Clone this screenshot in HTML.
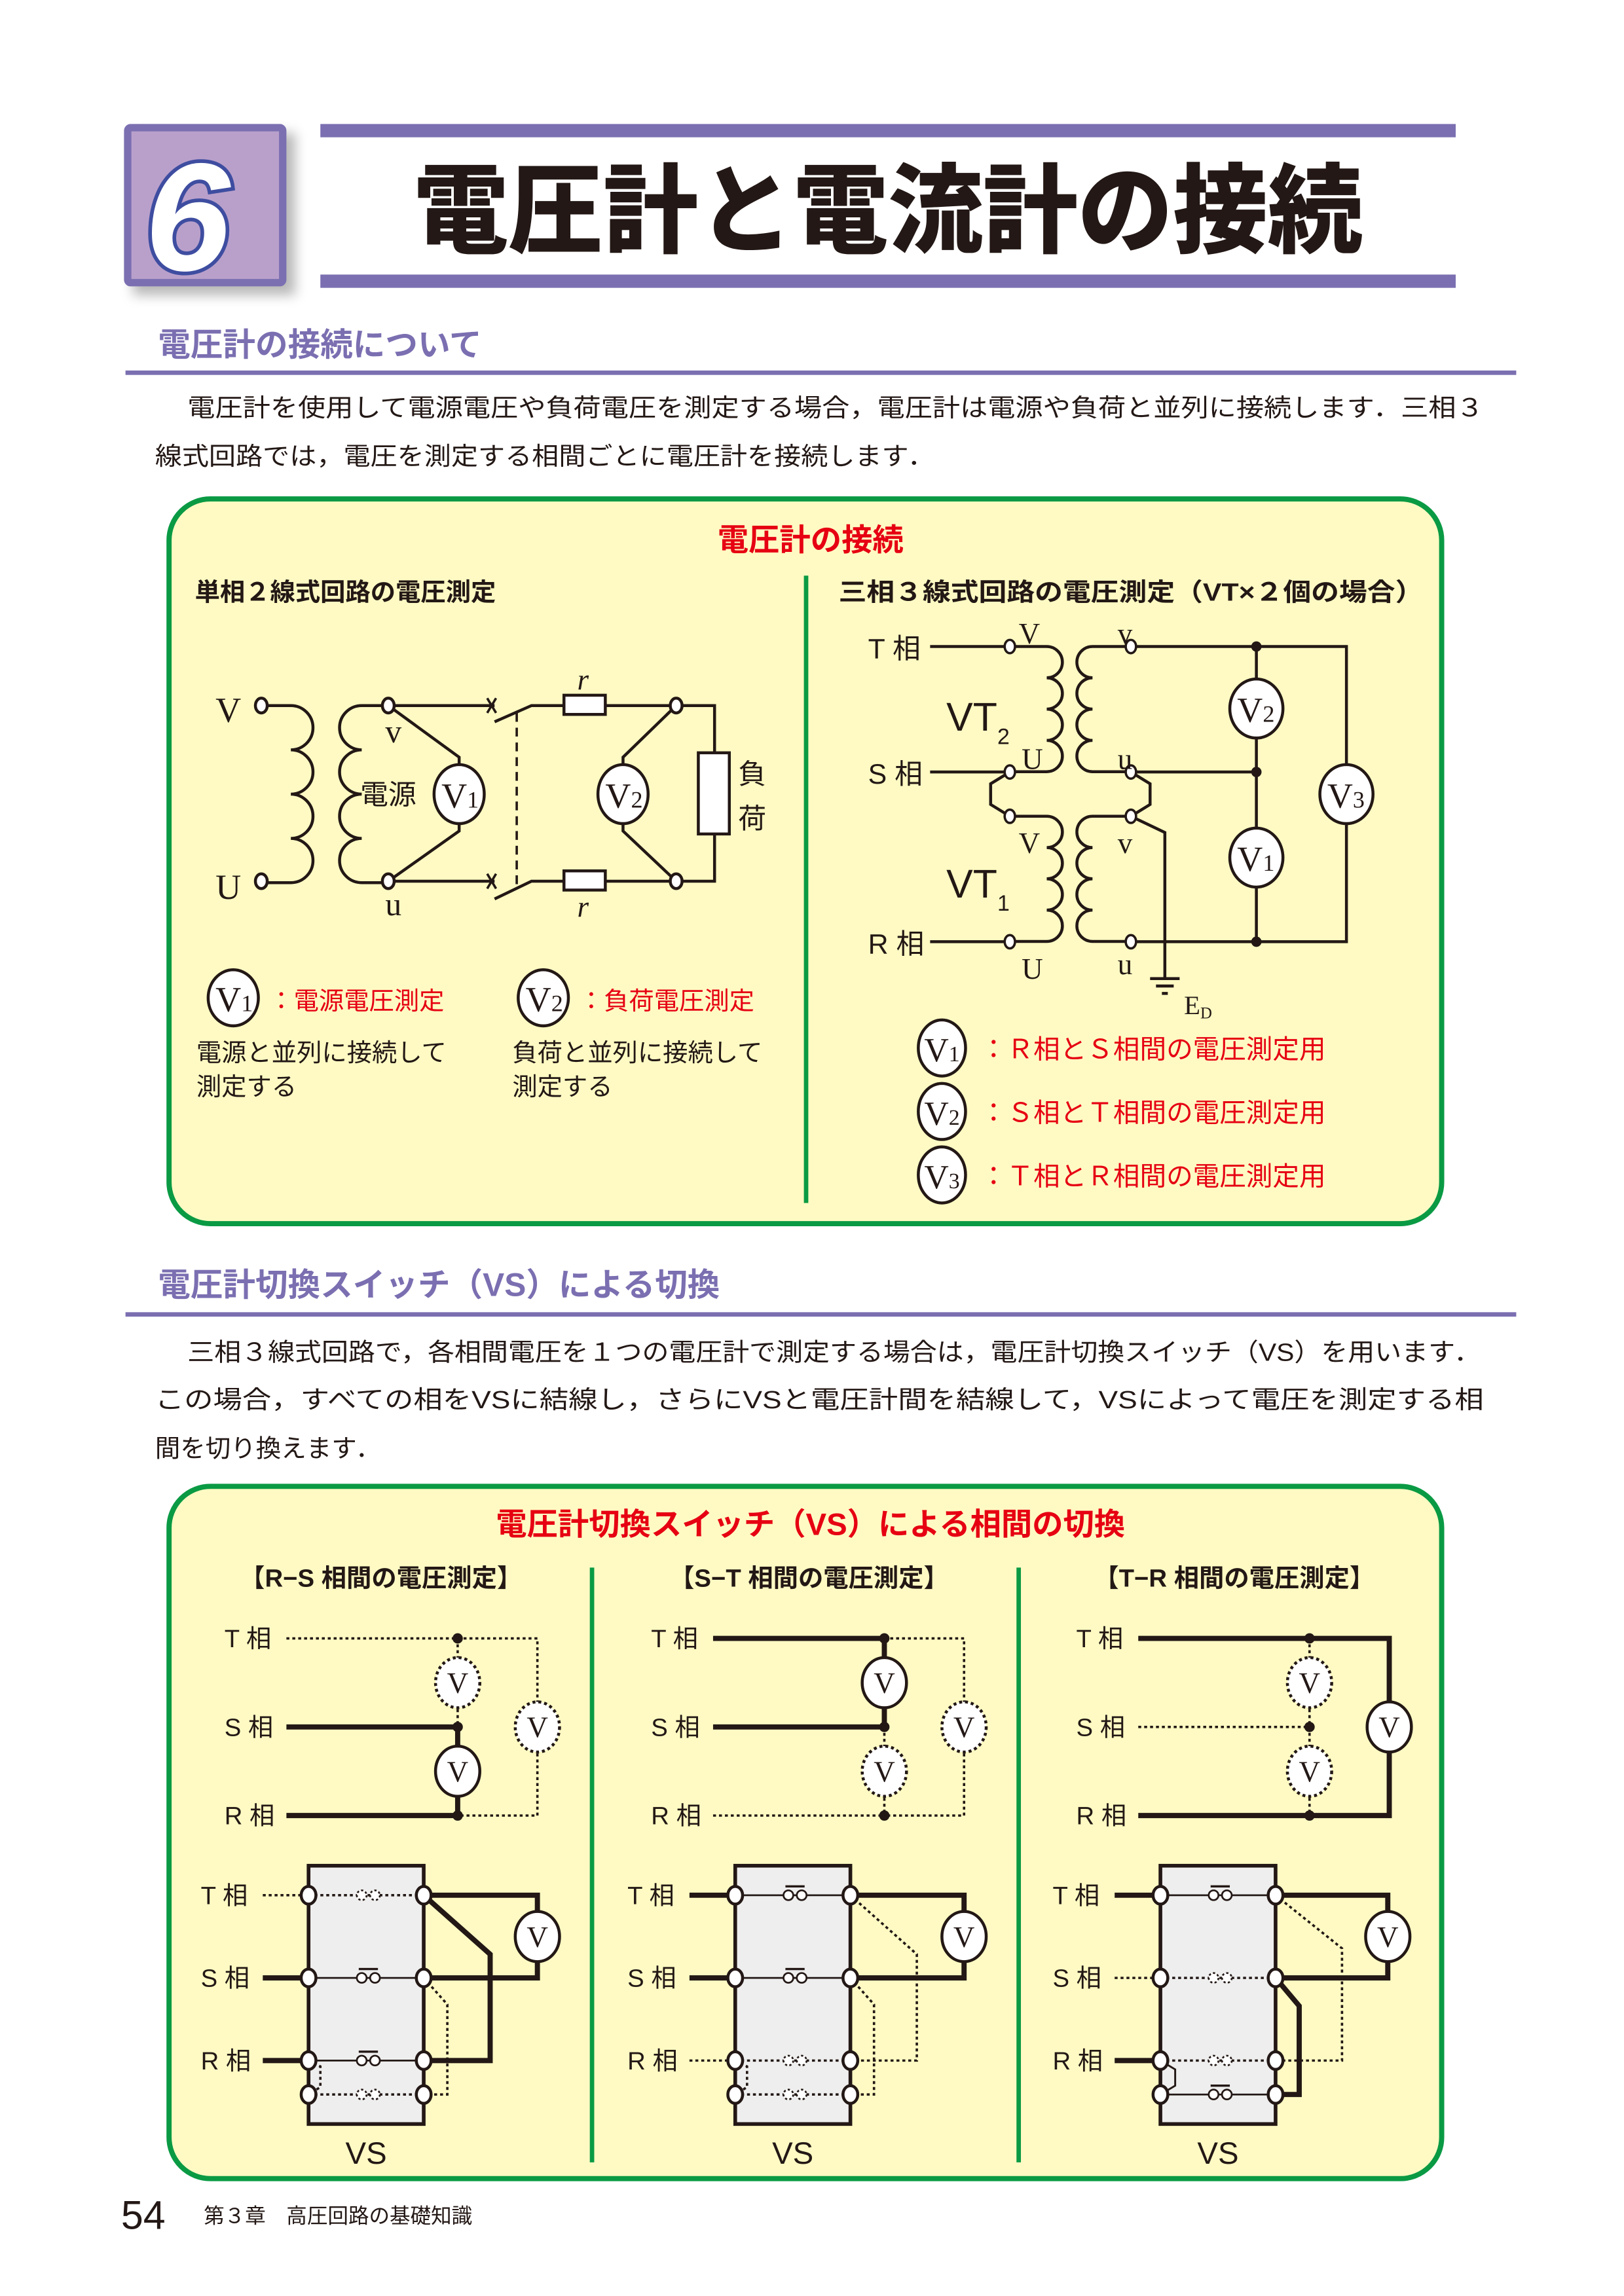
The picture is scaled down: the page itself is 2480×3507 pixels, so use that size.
<!DOCTYPE html>
<html><head><meta charset="utf-8">
<style>
html,body{margin:0;padding:0;background:#fff;}
svg{display:block;}
text{font-family:"Liberation Sans","Noto Sans CJK JP",sans-serif;}
.s{font-family:"Liberation Serif","Noto Serif CJK SC",serif;}
</style></head><body>
<svg xmlns="http://www.w3.org/2000/svg" width="2480" height="3507" viewBox="0 0 1100 1555.5">
<defs>
<filter id="sh" x="-20%" y="-20%" width="150%" height="150%"><feGaussianBlur stdDeviation="4"/></filter>
</defs>
<rect width="1100" height="1555.5" fill="#fff"/>

<!-- header -->
<rect x="90" y="90" width="110" height="110" fill="#888" filter="url(#sh)" opacity="0.6"/>
<rect x="86.5" y="86.5" width="105" height="105" fill="#b9a0cb" stroke="#7b6fb1" stroke-width="5" rx="2"/>
<text x="127" y="183" font-size="104" font-weight="bold" fill="#fff" stroke="#3e4da0" stroke-width="5" paint-order="stroke" text-anchor="middle" font-style="italic">6</text>
<rect x="217" y="84" width="769" height="9" fill="#7b6fb1"/>
<rect x="217" y="186" width="769" height="9" fill="#7b6fb1"/>
<text x="280" y="166" font-size="66" font-weight="900" fill="#231815" textLength="643" lengthAdjust="spacingAndGlyphs">電圧計と電流計の接続</text>

<!-- section 1 -->
<text x="107" y="241" font-size="22" font-weight="bold" fill="#7b6fb1">電圧計の接続について</text>
<rect x="85" y="251" width="942" height="3" fill="#7b6fb1"/>
<text x="127" y="282" font-size="17" fill="#231815" textLength="878" lengthAdjust="spacingAndGlyphs">電圧計を使用して電源電圧や負荷電圧を測定する場合，電圧計は電源や負荷と並列に接続します．三相３</text>
<text x="105" y="315" font-size="17" fill="#231815" textLength="528" lengthAdjust="spacingAndGlyphs">線式回路では，電圧を測定する相間ごとに電圧計を接続します．</text>

<!-- box1 -->
<rect x="114.5" y="338" width="862" height="491" rx="28" fill="#fffac3" stroke="#0a9a44" stroke-width="3.5"/>
<text x="549" y="373" font-size="21" font-weight="bold" fill="#e60012" text-anchor="middle">電圧計の接続</text>
<line x1="546" y1="390" x2="546" y2="815" stroke="#0a9a44" stroke-width="3"/>
<text x="132" y="407" font-size="17" font-weight="bold" fill="#231815">単相２線式回路の電圧測定</text>
<text x="568" y="407" font-size="17" font-weight="bold" fill="#231815" textLength="396" lengthAdjust="spacingAndGlyphs">三相３線式回路の電圧測定（VT×２個の場合）</text>

<!-- left circuit -->
<g stroke="#231815" stroke-width="2" fill="none">
<path d="M177,478 H197 a15,15 0 0 1 0,30 a15,15 0 0 1 0,30 a15,15 0 0 1 0,30 a15,15 0 0 1 0,30 H177"/>
<path d="M263,478 H245 a15,15 0 0 0 0,30 a15,15 0 0 0 0,30 a15,15 0 0 0 0,30 a15,15 0 0 0 0,30 H263"/>
<path d="M263,478 H335 M263,478 L311,513 V518 M311,558 V563 L263,597 H335"/>
<path d="M330,473 l6,10 M336,473 l-6,10 M330,592 l6,10 M336,592 l-6,10" stroke-width="1.6"/>
<path d="M335,489 L360,478 H382 M410,478 H458 M335,609 L360,597 H382 M410,597 H458"/>
<line x1="350" y1="483" x2="350" y2="603" stroke-dasharray="6,4" stroke-width="1.6"/>
<path d="M458,478 H484 V510 M484,565 V597 H458"/>
<path d="M458,478 L422,513 V518 M422,558 V563 L458,597"/>
</g>
<g stroke="#231815" stroke-width="2" fill="#fff">
<rect x="382" y="471" width="28" height="13"/>
<rect x="382" y="590" width="28" height="13"/>
<rect x="473" y="510" width="21" height="55"/>
<ellipse cx="177" cy="478" rx="4" ry="5"/><ellipse cx="177" cy="597" rx="4" ry="5"/>
<ellipse cx="263" cy="478" rx="4" ry="5"/><ellipse cx="263" cy="597" rx="4" ry="5"/>
<ellipse cx="458" cy="478" rx="4" ry="5"/><ellipse cx="458" cy="597" rx="4" ry="5"/>
<ellipse cx="311" cy="538" rx="17" ry="20"/>
<ellipse cx="422" cy="538" rx="17" ry="20"/>
</g>
<g fill="#231815" class="s">
<text class="s" x="146" y="489" font-size="24">V</text>
<text class="s" x="146" y="609" font-size="24">U</text>
<text class="s" x="261" y="503" font-size="22">v</text>
<text class="s" x="261" y="620" font-size="22">u</text>
<text class="s" x="391" y="467" font-size="20" font-style="italic">r</text>
<text class="s" x="391" y="621" font-size="20" font-style="italic">r</text>
<text class="s" x="299" y="547" font-size="24">V<tspan font-size="16">1</tspan></text>
<text class="s" x="410" y="547" font-size="24">V<tspan font-size="16">2</tspan></text>
</g>
<text x="244" y="545" font-size="19" fill="#231815">電源</text>
<text x="500" y="531" font-size="19" fill="#231815">負</text>
<text x="500" y="561" font-size="19" fill="#231815">荷</text>

<!-- left legends -->
<g stroke="#231815" stroke-width="2" fill="#fff">
<ellipse cx="158" cy="676" rx="17" ry="19"/>
<ellipse cx="368" cy="676" rx="17" ry="19"/>
</g>
<text class="s" x="146" y="685" font-size="24" fill="#231815">V<tspan font-size="16">1</tspan></text>
<text class="s" x="356" y="685" font-size="24" fill="#231815">V<tspan font-size="16">2</tspan></text>
<text x="182" y="684" font-size="17" fill="#e60012">：電源電圧測定</text>
<text x="392" y="684" font-size="17" fill="#e60012">：負荷電圧測定</text>
<text x="133" y="719" font-size="17" fill="#231815">電源と並列に接続して</text>
<text x="133" y="742" font-size="17" fill="#231815">測定する</text>
<text x="347" y="719" font-size="17" fill="#231815">負荷と並列に接続して</text>
<text x="347" y="742" font-size="17" fill="#231815">測定する</text>

<!-- right circuit -->
<g stroke="#231815" stroke-width="2" fill="none">
<path d="M630,438 H684 M630,523 H684 M630,638 H684"/>
<path d="M684,438 H709 a10.6,10.6 0 0 1 0,21.2 a10.6,10.6 0 0 1 0,21.2 a10.6,10.6 0 0 1 0,21.2 a10.6,10.6 0 0 1 0,21.2 H684"/>
<path d="M684,553 H709 a10.6,10.6 0 0 1 0,21.2 a10.6,10.6 0 0 1 0,21.2 a10.6,10.6 0 0 1 0,21.2 a10.6,10.6 0 0 1 0,21.2 H684"/>
<path d="M766,438 H740 a10.6,10.6 0 0 0 0,21.2 a10.6,10.6 0 0 0 0,21.2 a10.6,10.6 0 0 0 0,21.2 a10.6,10.6 0 0 0 0,21.2 H766"/>
<path d="M766,553 H740 a10.6,10.6 0 0 0 0,21.2 a10.6,10.6 0 0 0 0,21.2 a10.6,10.6 0 0 0 0,21.2 a10.6,10.6 0 0 0 0,21.2 H766"/>
<path d="M684,523 L671,531 V545 L684,553"/>
<path d="M766,523 L779,531 V545 L766,553"/>
<path d="M766,553 L789,564 V663"/>
<path d="M766,438 H912 V638 H766 M766,523 H851 M851,438 V461 M851,499 V562 M851,600 V638 M912,438 V518 M912,558 V638"/>
<path d="M779,663 H799 M783,668 H795 M787,673 H791" stroke-width="2"/>
</g>
<g fill="#231815">
<circle cx="851" cy="438" r="3.5"/><circle cx="851" cy="523" r="3.5"/><circle cx="851" cy="638" r="3.5"/>
</g>
<g stroke="#231815" stroke-width="1.6" fill="#fff">
<ellipse cx="684" cy="438" rx="3.5" ry="4.5"/><ellipse cx="684" cy="523" rx="3.5" ry="4.5"/>
<ellipse cx="684" cy="553" rx="3.5" ry="4.5"/><ellipse cx="684" cy="638" rx="3.5" ry="4.5"/>
<ellipse cx="766" cy="438" rx="3.5" ry="4.5"/><ellipse cx="766" cy="523" rx="3.5" ry="4.5"/>
<ellipse cx="766" cy="553" rx="3.5" ry="4.5"/><ellipse cx="766" cy="638" rx="3.5" ry="4.5"/>
</g>
<g stroke="#231815" stroke-width="2" fill="#fff">
<ellipse cx="851" cy="480" rx="18" ry="20"/>
<ellipse cx="851" cy="581" rx="18" ry="20"/>
<ellipse cx="912" cy="538" rx="18" ry="20"/>
</g>
<g fill="#231815">
<text class="s" x="838" y="489" font-size="24">V<tspan font-size="16">2</tspan></text>
<text class="s" x="838" y="590" font-size="24">V<tspan font-size="16">1</tspan></text>
<text class="s" x="899" y="547" font-size="24">V<tspan font-size="16">3</tspan></text>
<text class="s" x="690" y="436" font-size="20">V</text>
<text class="s" x="692" y="521" font-size="20">U</text>
<text class="s" x="690" y="578" font-size="20">V</text>
<text class="s" x="692" y="663" font-size="20">U</text>
<text class="s" x="757" y="436" font-size="20">v</text>
<text class="s" x="757" y="521" font-size="20">u</text>
<text class="s" x="757" y="578" font-size="20">v</text>
<text class="s" x="757" y="660" font-size="20">u</text>
<text class="s" x="802" y="687" font-size="18">E<tspan font-size="11" dy="3">D</tspan></text>
<text x="641" y="495" font-size="27">VT<tspan font-size="15" dy="9">2</tspan></text>
<text x="641" y="608" font-size="27">VT<tspan font-size="15" dy="9">1</tspan></text>
<text x="588" y="446" font-size="19">T 相</text>
<text x="588" y="531" font-size="19">S 相</text>
<text x="588" y="646" font-size="19">R 相</text>
</g>
<!-- right legends -->
<g stroke="#231815" stroke-width="2" fill="#fff">
<ellipse cx="638" cy="710" rx="16" ry="19"/>
<ellipse cx="638" cy="753" rx="16" ry="19"/>
<ellipse cx="638" cy="796" rx="16" ry="19"/>
</g>
<g fill="#231815">
<text class="s" x="626" y="719" font-size="23">V<tspan font-size="15">1</tspan></text>
<text class="s" x="626" y="762" font-size="23">V<tspan font-size="15">2</tspan></text>
<text class="s" x="626" y="805" font-size="23">V<tspan font-size="15">3</tspan></text>
</g>
<text x="664" y="717" font-size="18" fill="#e60012">：Ｒ相とＳ相間の電圧測定用</text>
<text x="664" y="760" font-size="18" fill="#e60012">：Ｓ相とＴ相間の電圧測定用</text>
<text x="664" y="803" font-size="18" fill="#e60012">：Ｔ相とＲ相間の電圧測定用</text>

<!-- section 2 -->
<text x="107" y="878" font-size="22" font-weight="bold" fill="#7b6fb1">電圧計切換スイッチ（VS）による切換</text>
<rect x="85" y="889" width="942" height="3" fill="#7b6fb1"/>
<text x="127" y="922" font-size="17" fill="#231815" textLength="876" lengthAdjust="spacingAndGlyphs">三相３線式回路で，各相間電圧を１つの電圧計で測定する場合は，電圧計切換スイッチ（VS）を用います．</text>
<text x="105" y="954" font-size="17" fill="#231815" textLength="900" lengthAdjust="spacingAndGlyphs">この場合，すべての相をVSに結線し，さらにVSと電圧計間を結線して，VSによって電圧を測定する相</text>
<text x="105" y="987" font-size="17" fill="#231815" textLength="153" lengthAdjust="spacingAndGlyphs">間を切り換えます．</text>

<!-- box2 -->
<rect x="114.5" y="1007" width="862" height="469" rx="28" fill="#fffac3" stroke="#0a9a44" stroke-width="3.5"/>
<text x="549" y="1040" font-size="21" font-weight="bold" fill="#e60012" text-anchor="middle">電圧計切換スイッチ（VS）による相間の切換</text>
<line x1="401" y1="1062" x2="401" y2="1465" stroke="#0a9a44" stroke-width="3"/>
<line x1="690" y1="1062" x2="690" y2="1465" stroke="#0a9a44" stroke-width="3"/>
<text x="258" y="1075" font-size="17" font-weight="bold" fill="#231815" text-anchor="middle">【R−S 相間の電圧測定】</text>
<text x="548" y="1075" font-size="17" font-weight="bold" fill="#231815" text-anchor="middle">【S−T 相間の電圧測定】</text>
<text x="836" y="1075" font-size="17" font-weight="bold" fill="#231815" text-anchor="middle">【T−R 相間の電圧測定】</text>

<!-- common labels per panel -->
<g id="labels" fill="#231815" font-size="17">
<text x="152" y="1116">T 相</text><text x="152" y="1176">S 相</text><text x="152" y="1236">R 相</text>
<text x="136" y="1290">T 相</text><text x="136" y="1346">S 相</text><text x="136" y="1402">R 相</text>
<text x="248" y="1466" font-size="21" text-anchor="middle">VS</text>
</g>
<use href="#labels" transform="translate(289,0)"/>
<use href="#labels" transform="translate(577,0)"/>

<!-- ===== Panel 1 ===== -->
<g stroke="#231815" fill="none">
<path d="M194,1110 H364 V1230 H310" stroke-width="1.6" stroke-dasharray="2,2"/>
<path d="M310,1110 V1230" stroke-width="1.6" stroke-dasharray="2,2"/>
<path d="M194,1170 H310 M194,1230 H310 M310,1170 V1230" stroke-width="3.5"/>
</g>
<g stroke="#231815" stroke-width="2" fill="#fff">
<ellipse cx="310" cy="1140" rx="15" ry="17" stroke-dasharray="2,2"/>
<ellipse cx="364" cy="1170" rx="15" ry="17" stroke-dasharray="2,2"/>
<ellipse cx="310" cy="1200" rx="15" ry="17"/>
</g>
<g fill="#231815"><circle cx="310" cy="1110" r="3.5"/><circle cx="310" cy="1170" r="3.5"/><circle cx="310" cy="1230" r="3.5"/></g>
<g class="s" font-size="20" fill="#231815" text-anchor="middle">
<text class="s" x="310" y="1147">V</text><text class="s" x="364" y="1177">V</text><text class="s" x="310" y="1207">V</text>
</g>

<!-- ===== Panel 2 ===== -->
<g stroke="#231815" fill="none">
<path d="M599,1110 H653 V1230 H599" stroke-width="1.6" stroke-dasharray="2,2"/>
<path d="M483,1230 H599 M599,1170 V1230" stroke-width="1.6" stroke-dasharray="2,2"/>
<path d="M483,1110 H599 M483,1170 H599 M599,1110 V1170" stroke-width="3.5"/>
</g>
<g stroke="#231815" stroke-width="2" fill="#fff">
<ellipse cx="599" cy="1140" rx="15" ry="17"/>
<ellipse cx="653" cy="1170" rx="15" ry="17" stroke-dasharray="2,2"/>
<ellipse cx="599" cy="1200" rx="15" ry="17" stroke-dasharray="2,2"/>
</g>
<g fill="#231815"><circle cx="599" cy="1110" r="3.5"/><circle cx="599" cy="1170" r="3.5"/><circle cx="599" cy="1230" r="3.5"/></g>
<g font-size="20" fill="#231815" text-anchor="middle">
<text class="s" x="599" y="1147">V</text><text class="s" x="653" y="1177">V</text><text class="s" x="599" y="1207">V</text>
</g>

<!-- ===== Panel 3 ===== -->
<g stroke="#231815" fill="none">
<path d="M771,1170 H887 M887,1110 V1230" stroke-width="1.6" stroke-dasharray="2,2"/>
<path d="M771,1110 H941 V1230 H771" stroke-width="3.5"/>
</g>
<g stroke="#231815" stroke-width="2" fill="#fff">
<ellipse cx="887" cy="1140" rx="15" ry="17" stroke-dasharray="2,2"/>
<ellipse cx="941" cy="1170" rx="15" ry="17"/>
<ellipse cx="887" cy="1200" rx="15" ry="17" stroke-dasharray="2,2"/>
</g>
<g fill="#231815"><circle cx="887" cy="1110" r="3.5"/><circle cx="887" cy="1170" r="3.5"/><circle cx="887" cy="1230" r="3.5"/></g>
<g font-size="20" fill="#231815" text-anchor="middle">
<text class="s" x="887" y="1147">V</text><text class="s" x="941" y="1177">V</text><text class="s" x="887" y="1207">V</text>
</g>

<!-- ===== VS boxes ===== -->
<!-- Panel 1 VS -->
<g stroke="#231815" fill="none">
<rect x="209" y="1264" width="78" height="175" fill="#eeeeee" stroke-width="2.5"/>
<path d="M178,1284 H209" stroke-width="1.6" stroke-dasharray="2,2"/>
<path d="M178,1340 H209 M178,1396 H209" stroke-width="3.5"/>
<path d="M209,1284 H287 M209,1419 H287 M287,1340 L303,1358 V1419 H287 M209,1396 L217,1400 V1414 L209,1419" stroke-width="1.6" stroke-dasharray="2,2"/>
<path d="M209,1340 H287 M209,1396 H287" stroke-width="1.2"/>
<path d="M287,1284 H364 V1340 H287 M287,1284 L332,1324 V1396 H287" stroke-width="3.5"/>
<path d="M243,1334 H256 M243,1390 H256" stroke-width="1.5"/>
</g>
<g stroke="#231815" fill="#fff">
<g stroke-width="1.2"><circle cx="245" cy="1340" r="3.3"/><circle cx="254" cy="1340" r="3.3"/><circle cx="245" cy="1396" r="3.3"/><circle cx="254" cy="1396" r="3.3"/></g>
<g stroke-width="1.2" stroke-dasharray="1.5,1.5"><circle cx="245" cy="1284" r="3.3"/><circle cx="254" cy="1284" r="3.3"/><circle cx="245" cy="1419" r="3.3"/><circle cx="254" cy="1419" r="3.3"/></g>
<g stroke-width="2"><ellipse cx="209" cy="1284" rx="5" ry="6"/><ellipse cx="287" cy="1284" rx="5" ry="6"/><ellipse cx="209" cy="1340" rx="5" ry="6"/><ellipse cx="287" cy="1340" rx="5" ry="6"/><ellipse cx="209" cy="1396" rx="5" ry="6"/><ellipse cx="287" cy="1396" rx="5" ry="6"/><ellipse cx="209" cy="1419" rx="5" ry="6"/><ellipse cx="287" cy="1419" rx="5" ry="6"/></g>
<ellipse cx="364" cy="1312" rx="15" ry="17" stroke-width="2"/>
</g>
<text class="s" x="364" y="1319" font-size="20" fill="#231815" text-anchor="middle">V</text>

<!-- Panel 2 VS -->
<g stroke="#231815" fill="none">
<rect x="498" y="1264" width="78" height="175" fill="#eeeeee" stroke-width="2.5"/>
<path d="M467,1396 H498" stroke-width="1.6" stroke-dasharray="2,2"/>
<path d="M467,1284 H498 M467,1340 H498" stroke-width="3.5"/>
<path d="M498,1396 H576 M498,1419 H576 M576,1284 L621,1324 V1396 H576 M576,1340 L592,1358 V1419 H576 M498,1396 L506,1400 V1414 L498,1419" stroke-width="1.6" stroke-dasharray="2,2"/>
<path d="M498,1284 H576 M498,1340 H576" stroke-width="1.2"/>
<path d="M576,1284 H653 V1340 H576" stroke-width="3.5"/>
<path d="M532,1278 H545 M532,1334 H545" stroke-width="1.5"/>
</g>
<g stroke="#231815" fill="#fff">
<g stroke-width="1.2"><circle cx="534" cy="1284" r="3.3"/><circle cx="543" cy="1284" r="3.3"/><circle cx="534" cy="1340" r="3.3"/><circle cx="543" cy="1340" r="3.3"/></g>
<g stroke-width="1.2" stroke-dasharray="1.5,1.5"><circle cx="534" cy="1396" r="3.3"/><circle cx="543" cy="1396" r="3.3"/><circle cx="534" cy="1419" r="3.3"/><circle cx="543" cy="1419" r="3.3"/></g>
<g stroke-width="2"><ellipse cx="498" cy="1284" rx="5" ry="6"/><ellipse cx="576" cy="1284" rx="5" ry="6"/><ellipse cx="498" cy="1340" rx="5" ry="6"/><ellipse cx="576" cy="1340" rx="5" ry="6"/><ellipse cx="498" cy="1396" rx="5" ry="6"/><ellipse cx="576" cy="1396" rx="5" ry="6"/><ellipse cx="498" cy="1419" rx="5" ry="6"/><ellipse cx="576" cy="1419" rx="5" ry="6"/></g>
<ellipse cx="653" cy="1312" rx="15" ry="17" stroke-width="2"/>
</g>
<text class="s" x="653" y="1319" font-size="20" fill="#231815" text-anchor="middle">V</text>

<!-- Panel 3 VS -->
<g stroke="#231815" fill="none">
<rect x="786" y="1264" width="78" height="175" fill="#eeeeee" stroke-width="2.5"/>
<path d="M755,1340 H786" stroke-width="1.6" stroke-dasharray="2,2"/>
<path d="M755,1284 H786 M755,1396 H786" stroke-width="3.5"/>
<path d="M786,1340 H864 M786,1396 H864 M864,1284 L909,1320 V1396 H864" stroke-width="1.6" stroke-dasharray="2,2"/>
<path d="M786,1284 H864 M786,1419 H864" stroke-width="1.2"/>
<path d="M786,1396 L796,1402 V1413 L786,1419" stroke-width="1.3"/>
<path d="M864,1284 H940 V1340 H864 M864,1340 L880,1359 V1419 H864" stroke-width="3.5"/>
<path d="M820,1278 H833 M820,1413 H833" stroke-width="1.5"/>
</g>
<g stroke="#231815" fill="#fff">
<g stroke-width="1.2"><circle cx="822" cy="1284" r="3.3"/><circle cx="831" cy="1284" r="3.3"/><circle cx="822" cy="1419" r="3.3"/><circle cx="831" cy="1419" r="3.3"/></g>
<g stroke-width="1.2" stroke-dasharray="1.5,1.5"><circle cx="822" cy="1340" r="3.3"/><circle cx="831" cy="1340" r="3.3"/><circle cx="822" cy="1396" r="3.3"/><circle cx="831" cy="1396" r="3.3"/></g>
<g stroke-width="2"><ellipse cx="786" cy="1284" rx="5" ry="6"/><ellipse cx="864" cy="1284" rx="5" ry="6"/><ellipse cx="786" cy="1340" rx="5" ry="6"/><ellipse cx="864" cy="1340" rx="5" ry="6"/><ellipse cx="786" cy="1396" rx="5" ry="6"/><ellipse cx="864" cy="1396" rx="5" ry="6"/><ellipse cx="786" cy="1419" rx="5" ry="6"/><ellipse cx="864" cy="1419" rx="5" ry="6"/></g>
<ellipse cx="940" cy="1312" rx="15" ry="17" stroke-width="2"/>
</g>
<text class="s" x="940" y="1319" font-size="20" fill="#231815" text-anchor="middle">V</text>

<!-- footer -->
<text x="82" y="1510" font-size="27" fill="#231815">54</text>
<text x="138" y="1506" font-size="14" fill="#231815">第３章　高圧回路の基礎知識</text>
</svg>
</body></html>
